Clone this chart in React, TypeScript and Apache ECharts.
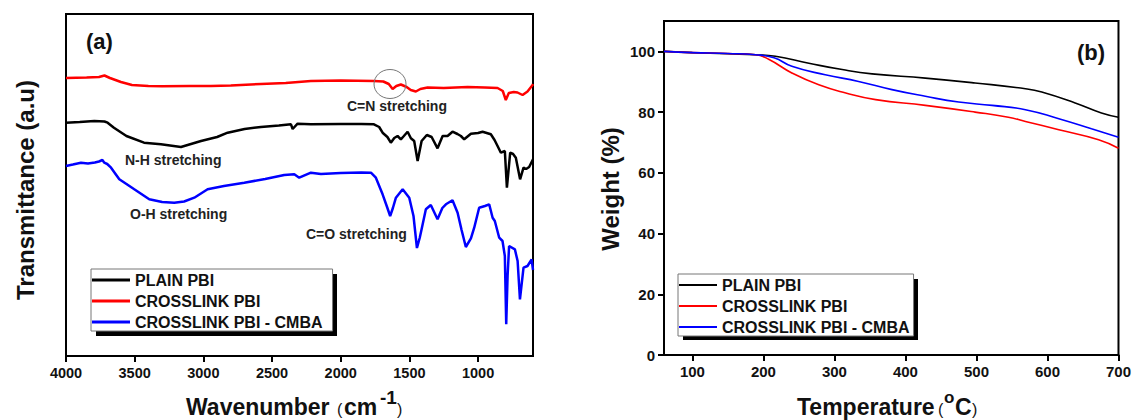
import React, { useEffect, useRef } from 'react';
import * as echarts from 'echarts';

// ---------- tick labels ----------
const ftirTicks = [4000, 3500, 3000, 2500, 2000, 1500, 1000];
const tgaXTicks = [100, 200, 300, 400, 500, 600, 700];
const tgaYTicks = [0, 20, 40, 60, 80, 100];

// ---------- series ----------
const seriesNames = ['PLAIN PBI', 'CROSSLINK PBI', 'CROSSLINK PBI - CMBA'];
const seriesColors = ['#000000', '#ff0000', '#0000ff'];

// FTIR (a) — wavenumber (cm-1) and transmittance (a.u., offset traces)
const ftirPlainX = [4000, 3900, 3794, 3720, 3697, 3651, 3560, 3432, 3309, 3163, 3017, 2900, 2823, 2700, 2581, 2450, 2362, 2350, 2314, 2217, 2000, 1850, 1758, 1720, 1695, 1660, 1635, 1610, 1586, 1562, 1540, 1513, 1489, 1465, 1440, 1411, 1373, 1338, 1295, 1258, 1222, 1186, 1150, 1125, 1101, 1052, 1000, 967, 907, 880, 858, 834, 805, 790, 766, 745, 725, 694, 669, 650, 628, 600];
const ftirPlainY = [233.3, 234, 235, 234.5, 233.3, 228.3, 220, 213.3, 211.7, 209, 215, 219, 223.3, 227, 229, 230.5, 231.7, 227, 232.3, 231.7, 232, 232, 231.7, 229, 223.3, 219, 213.3, 218, 220, 216.7, 220, 224.3, 217.7, 215, 195, 215, 221, 219, 207.7, 220, 220, 224.3, 222, 220, 216.7, 222.3, 223, 224.3, 221.7, 216, 210, 203.3, 205, 168.3, 203.3, 202, 198.3, 176.7, 188.3, 187, 189, 196.7];

const ftirCrossX = [4000, 3850, 3760, 3720, 3680, 3600, 3520, 3400, 3300, 3100, 2945, 2800, 2581, 2400, 2217, 2000, 1760, 1690, 1650, 1622, 1595, 1562, 1520, 1490, 1453, 1420, 1368, 1250, 1076, 950, 858, 820, 798, 776, 740, 713, 676, 640, 603, 600];
const ftirCrossY = [278, 278.5, 279, 280.5, 278, 274, 271, 270, 269.7, 270, 270, 270.5, 272, 273, 275, 275.5, 275, 274.5, 272, 267, 270, 271.5, 269, 266, 264.5, 267, 268.5, 268, 269, 268.5, 268, 265, 256, 263, 264, 263.5, 261, 264.5, 271, 272];

const ftirCmbaX = [4000, 3950, 3891, 3840, 3790, 3760, 3735, 3721, 3700, 3672, 3612, 3560, 3503, 3394, 3300, 3212, 3140, 3066, 2969, 2850, 2702, 2550, 2411, 2338, 2302, 2217, 2144, 2000, 1850, 1780, 1744, 1695, 1665, 1640, 1620, 1598, 1549, 1501, 1470, 1445, 1425, 1411, 1380, 1344, 1295, 1260, 1234, 1186, 1149, 1120, 1089, 1052, 1028, 992, 950, 919, 894, 878, 846, 822, 805, 795, 785, 774, 732, 712, 695, 669, 640, 610, 600];
const ftirCmbaY = [190, 191.5, 193.3, 192.5, 193.5, 194.5, 196, 193.3, 192, 188.3, 176.7, 172, 166.7, 156.7, 154, 153.3, 154.5, 158.3, 166.7, 170, 173.3, 177, 181, 181.7, 178.3, 183.3, 182, 183, 183.5, 183.3, 178.3, 161.7, 150, 140, 148, 158.3, 166.7, 158.3, 140, 108, 118, 126.7, 146.7, 151, 136.7, 148, 151.7, 155.7, 143.3, 126, 109, 117.7, 128.3, 148.3, 150, 151.7, 138.3, 135, 118.3, 115, 100, 31.7, 80, 110, 106.7, 95, 56.7, 88.3, 90, 96.7, 86];

// TGA (b) — temperature (°C) and weight (%)
const tgaPlainT = [60, 100, 150, 189, 217, 264, 311, 353, 428, 498, 569, 592, 639, 676, 700];
const tgaPlainW = [100, 99.6, 99.2, 98.9, 98.4, 96.1, 94, 92.6, 91.2, 89.6, 87.7, 86.6, 83, 79.7, 78.3];
const tgaCrossT = [60, 100, 150, 189, 208, 240, 278, 316, 358, 428, 498, 545, 569, 616, 672, 700];
const tgaCrossW = [100, 99.6, 99.3, 98.9, 97.3, 92.9, 89, 86.3, 84.1, 82.2, 80, 78.3, 76.9, 74.2, 70.9, 68.1];
const tgaCmbaT = [60, 100, 150, 189, 215, 240, 287, 334, 381, 428, 475, 522, 569, 616, 662, 700];
const tgaCmbaW = [100, 99.6, 99.3, 98.9, 97.9, 95.1, 92.3, 90.1, 87.4, 85.2, 83.3, 82.2, 80.8, 77.8, 74.5, 71.7];

const FF = "'Liberation Sans', Arial, Helvetica, sans-serif";
const pairs = (xs: number[], ys: number[]) => xs.map((x, i) => [x, ys[i]]);
const plain = (v: number) => String(v);

const txt = (x: number, y: number, text: string, font: string, align = 'left', rotation = 0, fill = '#111') => ({
  type: 'text',
  x,
  y,
  rotation,
  z: 10,
  style: { text, font, fill, align, verticalAlign: 'middle', textAlign: align, textVerticalAlign: 'middle' },
});

const labelStyle = (size: number) => ({ fontFamily: FF, fontWeight: 'bold', fontSize: size, color: '#111', formatter: plain });
const blackLine = { show: true, onZero: false, lineStyle: { color: '#000', width: 2 } };
const tick = (values: number[]) => ({ show: true, inside: false, length: 6, lineStyle: { color: '#000', width: 2 }, customValues: values });

export default function App() {
  const ref = useRef<HTMLDivElement>(null);
  useEffect(() => {
    if (!ref.current) return;
    const chart = echarts.init(ref.current, null, { renderer: 'svg' });
    const ftirData = [pairs(ftirPlainX, ftirPlainY), pairs(ftirCrossX, ftirCrossY), pairs(ftirCmbaX, ftirCmbaY)];
    const tgaData = [pairs(tgaPlainT, tgaPlainW), pairs(tgaCrossT, tgaCrossW), pairs(tgaCmbaT, tgaCmbaW)];
    const legendBase = {
      orient: 'vertical',
      data: seriesNames,
      icon: 'rect',
      itemWidth: 38,
      itemGap: 5,
      backgroundColor: '#fff',
      borderColor: '#777',
      borderWidth: 1,
      selectedMode: false,
      z: 5,
      textStyle: { fontFamily: FF, fontWeight: 'bold', fontSize: 16, color: '#111' },
    };
    chart.setOption({
      animation: false,
      backgroundColor: '#fff',
      grid: [
        { left: 66, top: 14, width: 467, height: 342, show: true, borderColor: '#000', borderWidth: 2 },
        { left: 664, top: 21, width: 456, height: 334, show: true, borderColor: '#000', borderWidth: 2 },
      ],
      xAxis: [
        {
          gridIndex: 0, type: 'value', inverse: true, min: 600, max: 4000,
          axisLine: blackLine,
          axisTick: tick(ftirTicks),
          axisLabel: { ...labelStyle(14.5), margin: 9, customValues: ftirTicks },
          splitLine: { show: false },
        },
        {
          gridIndex: 1, type: 'value', min: 60, max: 700,
          axisLine: blackLine,
          axisTick: tick(tgaXTicks),
          axisLabel: { ...labelStyle(15), margin: 9, customValues: tgaXTicks },
          splitLine: { show: false },
        },
      ],
      yAxis: [
        {
          gridIndex: 0, type: 'value', min: 0, max: 342,
          axisLine: blackLine, axisTick: { show: false }, axisLabel: { show: false }, splitLine: { show: false },
        },
        {
          gridIndex: 1, type: 'value', min: 0, max: 110,
          axisLine: blackLine,
          axisTick: tick(tgaYTicks),
          axisLabel: { ...labelStyle(15), margin: 9, customValues: tgaYTicks },
          splitLine: { show: false },
        },
      ],
      legend: [
        { ...legendBase, left: 91, top: 269, itemHeight: 3, padding: [3, 10, 1, 1] },
        { ...legendBase, left: 678, top: 274, itemHeight: 2, padding: [3, 4, 1, 1] },
      ],
      series: [
        ...ftirData.map((d, i) => ({
          name: seriesNames[i], type: 'line', xAxisIndex: 0, yAxisIndex: 0, data: d,
          showSymbol: false, color: seriesColors[i], lineStyle: { width: 2.5, color: seriesColors[i] },
        })),
        ...tgaData.map((d, i) => ({
          name: seriesNames[i], type: 'line', xAxisIndex: 1, yAxisIndex: 1, data: d, smooth: true,
          showSymbol: false, color: seriesColors[i], lineStyle: { width: 1.6, color: seriesColors[i] },
        })),
      ],
      graphic: [
        { type: 'rect', z: 1, shape: { x: 96, y: 274, width: 241, height: 62 }, style: { fill: '#000' } },
        { type: 'rect', z: 1, shape: { x: 683, y: 279, width: 235, height: 61 }, style: { fill: '#000' } },
        { type: 'ellipse', z: 10, shape: { cx: 390, cy: 84, rx: 16, ry: 14.5 }, style: { fill: 'none', stroke: '#777', lineWidth: 1 } },
        txt(86, 41, '(a)', `bold 22px ${FF}`),
        txt(1077, 52, '(b)', `bold 22px ${FF}`),
        txt(347, 105.5, 'C=N stretching', `bold 14px ${FF}`, 'left', 0, '#222'),
        txt(125, 160, 'N-H stretching', `bold 14px ${FF}`, 'left', 0, '#222'),
        txt(130, 213.5, 'O-H stretching', `bold 14px ${FF}`, 'left', 0, '#222'),
        txt(306, 234, 'C=O stretching', `bold 14px ${FF}`, 'left', 0, '#222'),
        // y axis names
        txt(25, 190, 'Transmittance (a.u)', `bold 24px ${FF}`, 'center', Math.PI / 2),
        txt(610, 189, 'Weight (%)', `bold 24px ${FF}`, 'center', Math.PI / 2),
        // x axis name (a)
        txt(186, 407, 'Wavenumber', `bold 23px ${FF}`),
        txt(337, 409, '(', `16px ${FF}`),
        txt(344, 407, 'cm', `bold 23px ${FF}`),
        txt(380, 397, '-1', `bold 19px ${FF}`),
        txt(397, 409, ')', `16px ${FF}`),
        // x axis name (b)
        txt(797, 407, 'Temperature', `bold 23px ${FF}`),
        txt(938, 409, '(', `16px ${FF}`),
        txt(944, 397, 'o', `bold 17px ${FF}`),
        txt(955, 407, 'C', `bold 23px ${FF}`),
        txt(972, 409, ')', `16px ${FF}`),
      ],
    });
    return () => chart.dispose();
  }, []);
  return <div ref={ref} style={{ position: 'absolute', left: 0, top: 0, width: 1134, height: 420 }} />;
}
